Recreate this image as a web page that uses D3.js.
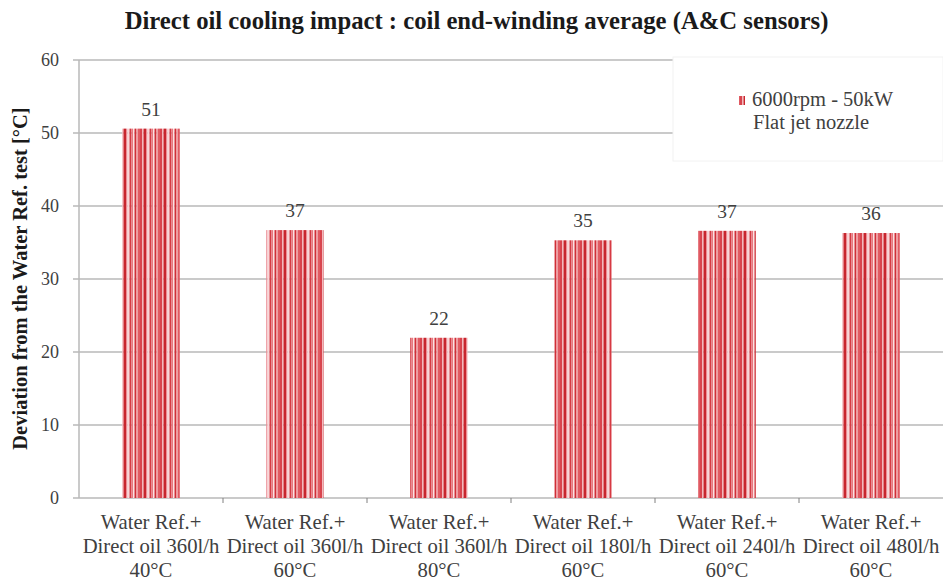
<!DOCTYPE html>
<html><head><meta charset="utf-8">
<script src="https://cdn.jsdelivr.net/npm/d3@7"></script>
<style>body{margin:0;background:#fff}svg{display:block}</style>
</head><body><svg id="c" width="943" height="581"></svg>
<script>
const categories = [
  ["Water Ref.+","Direct oil 360l/h","40°C"],
  ["Water Ref.+","Direct oil 360l/h","60°C"],
  ["Water Ref.+","Direct oil 360l/h","80°C"],
  ["Water Ref.+","Direct oil 180l/h","60°C"],
  ["Water Ref.+","Direct oil 240l/h","60°C"],
  ["Water Ref.+","Direct oil 480l/h","60°C"]
];
const values = [50.6, 36.7, 21.95, 35.3, 36.6, 36.3];
const valueLabels = ["51","37","22","35","37","36"];
const yTicks = [0,10,20,30,40,50,60];
const seriesName = ["6000rpm - 50kW","Flat jet nozzle"];
const title = "Direct oil cooling impact : coil end-winding average (A&C sensors)";
const yTitle = "Deviation from the Water Ref. test [°C]";

const svg = d3.select("#c");
const font = '"Liberation Serif", "Times New Roman", serif';
const m = {l:79, t:60, b:83};
const W = 943, H = 581;
const x = d3.scaleBand().domain(d3.range(categories.length)).range([m.l, W]).paddingInner(0.6).paddingOuter(0.3);
const y = d3.scaleLinear().domain([0,60]).range([H-m.b, m.t]);

function txt(sel, size, color, weight){
  return sel.style("font-family",font).style("font-size",size+"px").style("font-weight",weight||"normal").attr("fill",color);
}

// stripe pattern
const defs = svg.append("defs");
const pat = defs.append("pattern").attr("id","stripes").attr("patternUnits","userSpaceOnUse")
  .attr("width",20).attr("height",10);
const stripes = [["#d8454e",2],["#f3b9bd",1.5],["#c8262e",2.5],["#eb8e95",1.5],["#f8d6d8",2],["#d63a43",2],["#e77880",1.5],["#fbe1e2",1.5],["#cf2f37",2],["#ee9ea3",1.5],["#e05a62",2]];
let sx = 0;
stripes.forEach(([c,w])=>{pat.append("rect").attr("x",sx).attr("y",0).attr("width",w).attr("height",10).attr("fill",c); sx+=w;});
pat.attr("width", sx);

// gridlines
svg.append("g").selectAll("line").data(yTicks).join("line")
  .attr("x1", m.l-6).attr("x2", W).attr("y1", d=>y(d)).attr("y2", d=>y(d))
  .attr("stroke","#b8b8b8").attr("stroke-width",1.5);
svg.append("line").attr("x1",m.l).attr("x2",m.l).attr("y1",y(60)).attr("y2",y(0))
  .attr("stroke","#b8b8b8").attr("stroke-width",1.5);
txt(svg.append("g").selectAll("text").data(yTicks).join("text")
  .attr("x", m.l-20).attr("y", d=>y(d)+6).attr("text-anchor","end"), 18, "#404040").text(d=>d);
svg.append("g").selectAll("line").data(d3.range(1,categories.length)).join("line")
  .attr("x1", i=>x(i)-x.step()*x.paddingInner()/2).attr("x2", i=>x(i)-x.step()*x.paddingInner()/2)
  .attr("y1", y(0)).attr("y2", y(0)+5).attr("stroke","#808080").attr("stroke-width",1);

// legend box
svg.append("rect").attr("x",673).attr("y",57).attr("width",270).attr("height",104)
  .attr("fill","#fff").attr("stroke","#f2f2f2");

// bars
svg.append("g").selectAll("rect").data(values).join("rect")
  .attr("x",(d,i)=>x(i)).attr("width",x.bandwidth())
  .attr("y",d=>y(d)).attr("height",d=>y(0)-y(d)).attr("fill","url(#stripes)");
txt(svg.append("g").selectAll("text").data(values).join("text")
  .attr("x",(d,i)=>x(i)+x.bandwidth()/2).attr("y",d=>y(d)-13)
  .attr("text-anchor","middle"), 19.5, "#404040").text((d,i)=>valueLabels[i]);
const cl = txt(svg.append("g").selectAll("text").data(categories).join("text")
  .attr("text-anchor","middle"), 20.7, "#404040");
cl.each(function(d,i){
  const t = d3.select(this);
  d.forEach((line,j)=>t.append("tspan").attr("x", x(i)+x.bandwidth()/2).attr("y", 529+j*24).text(line));
});

// legend
svg.append("rect").attr("x",739).attr("y",96).attr("width",6).attr("height",9).attr("fill","url(#stripes)");
txt(svg.append("text").attr("x",752).attr("y",106), 20.5, "#404040").text(seriesName[0]);
txt(svg.append("text").attr("x",753).attr("y",129), 20.5, "#404040").text(seriesName[1]);

// title
txt(svg.append("text").attr("x",476.5).attr("y",29).attr("text-anchor","middle"), 24.7, "#1a1a1a", "bold").text(title);
// y title
txt(svg.append("text").attr("transform",`translate(27,278.5) rotate(-90)`)
  .attr("text-anchor","middle"), 20.5, "#1a1a1a", "bold").text(yTitle);
</script></body></html>
